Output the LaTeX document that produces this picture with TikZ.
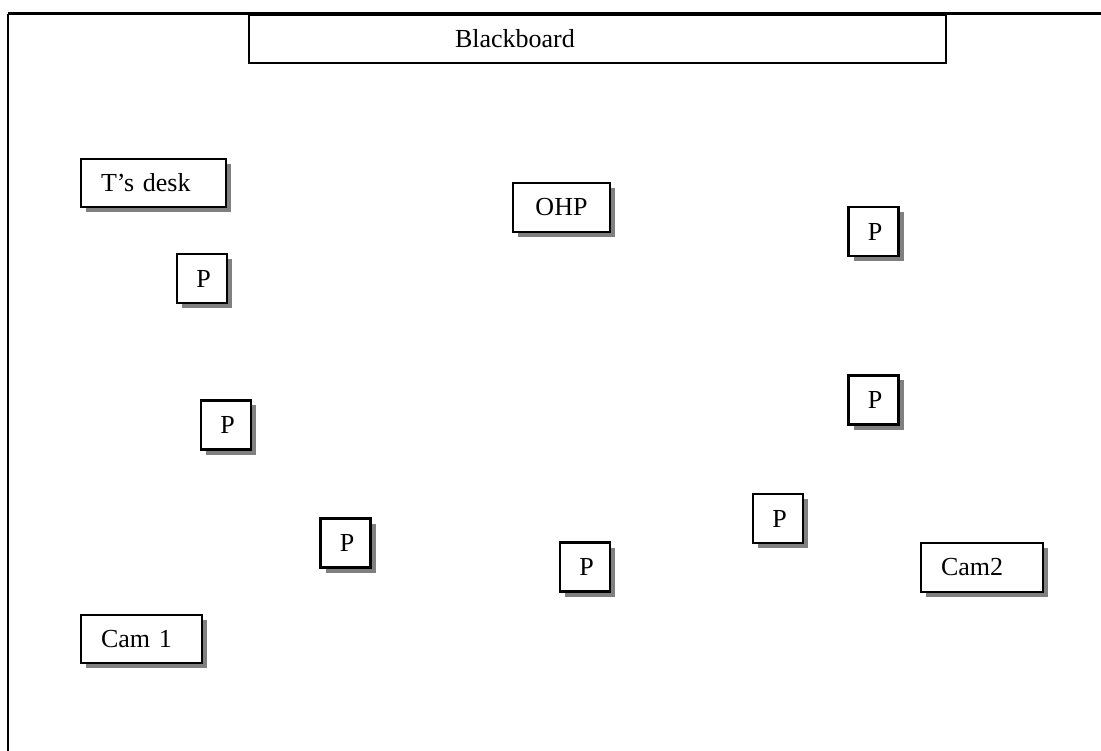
\documentclass[tikz,border=0pt]{standalone}
\usepackage{fontspec}
\setmainfont{Liberation Serif}
\usetikzlibrary{shadows}
\begin{document}
\begin{tikzpicture}[x=1pt,y=-1pt,
  every node/.style={font=\fontsize{26}{30}\selectfont},
  box/.style={draw=black, line width=2.2pt, fill=white, inner sep=0pt, minimum height=48pt},
  shbox/.style={box, drop shadow={shadow xshift=5pt, shadow yshift=-5pt, fill=gray, opacity=1}},
  pbox/.style={shbox, minimum width=50pt, minimum height=49pt},
  lbox/.style={shbox, align=left, inner xsep=20pt}
]
\useasboundingbox (0,0) rectangle (1101,751);
% room frame (top and left walls)
\coordinate (ftr) at (1101,14);
\coordinate (ftl) at (8,14);
\coordinate (fbl) at (8,751);
\draw[line width=3pt] (ftr) -- (ftl);
\draw[line width=2.5pt] (ftl) -- (fbl);
% blackboard
\node[box, minimum width=697pt, text width=657pt, align=left, inner xsep=20pt] (bb) at (597.5,39) {\hspace*{186pt}Blackboard};
% furniture
\node[lbox, text width=105pt, minimum height=48pt] (desk) at (153.5,183) {T’s desk};
\node[shbox, minimum width=97pt, minimum height=49pt] (ohp) at (561.5,207.5) {OHP};
\node[pbox] (p1) at (202,278.5) {\hspace*{3pt}P};
\node[pbox] (p2) at (226,425) {\hspace*{3pt}P};
\node[pbox] (p3) at (345.5,543) {\hspace*{3pt}P};
\node[pbox] (p4) at (585,567) {\hspace*{3pt}P};
\node[pbox] (p5) at (778,518.5) {\hspace*{3pt}P};
\node[pbox] (p6) at (873.5,400) {\hspace*{3pt}P};
\node[pbox] (p7) at (873.5,231.5) {\hspace*{3pt}P};
\node[lbox, text width=81pt] (cam1) at (141.5,639) {Cam 1};
\node[lbox, text width=82pt, minimum height=49pt] (cam2) at (982,567.5) {Cam2};
\end{tikzpicture}
\end{document}
